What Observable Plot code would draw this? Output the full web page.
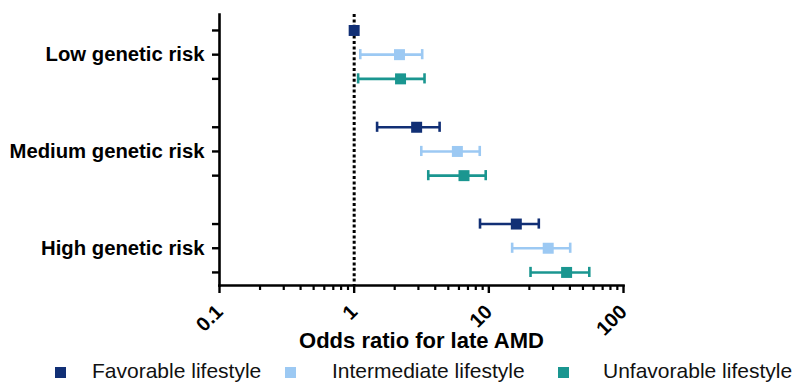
<!DOCTYPE html>
<html>
<head>
<meta charset="utf-8">
<script src="https://cdn.jsdelivr.net/npm/d3@7"></script>
<script src="https://cdn.jsdelivr.net/npm/@observablehq/plot@0.6"></script>
<style>
  html, body { margin: 0; padding: 0; background: #fff; }
  body { width: 795px; height: 383px; overflow: hidden; font-family: "Liberation Sans", Arial, sans-serif; }
  #chart svg { display: block; }
  #legend { position: relative; height: 23px; font-size: 21px; color: #111; }
  .sw { position: absolute; top: 7px; width: 11px; height: 11px; }
  .tx { position: absolute; top: -1px; white-space: nowrap; line-height: 24px; }
</style>
</head>
<body>
<div id="chart"></div>
<div id="legend"></div>
<script>
const groups = ["Low genetic risk", "Medium genetic risk", "High genetic risk"];
const lifestyles = ["Favorable lifestyle", "Intermediate lifestyle", "Unfavorable lifestyle"];
const colors = ["#112f75", "#9cc9f3", "#1a9690"];

const favorableOR = [1.0, 2.91, 16.0];
const favorableLo = [null, 1.48, 8.6];
const favorableHi = [null, 4.31, 23.5];

const intermediateOR = [2.17, 5.84, 27.6];
const intermediateLo = [1.11, 3.15, 14.9];
const intermediateHi = [3.2, 8.56, 40.2];

const unfavorableOR = [2.21, 6.54, 37.8];
const unfavorableLo = [1.07, 3.55, 20.4];
const unfavorableHi = [3.33, 9.48, 55.7];

const xTicks = [0.1, 1, 10, 100];
const xLabel = "Odds ratio for late AMD";

const series = [
  [favorableOR, favorableLo, favorableHi],
  [intermediateOR, intermediateLo, intermediateHi],
  [unfavorableOR, unfavorableLo, unfavorableHi]
];

const data = [];
groups.forEach((g, gi) => {
  lifestyles.forEach((l, si) => {
    const [or, lo, hi] = series[si];
    data.push({group: g, lifestyle: l, or: or[gi], lo: lo[gi], hi: hi[gi], row: gi * 4 + si});
  });
});
const ci = data.filter(d => d.lo != null);
const rows = data.map(d => d.row);
const labelOf = new Map(groups.map((g, gi) => [gi * 4 + 1, g]));
const minorTicks = [];
for (let e = -1; e < 2; e++) for (let k = 2; k <= 9; k++) minorTicks.push(k * Math.pow(10, e));

const font = '"Liberation Sans", Arial, sans-serif';

const chart = Plot.plot({
  width: 795,
  height: 360,
  marginLeft: 219,
  marginRight: 172,
  marginTop: 14,
  marginBottom: 75,
  style: {fontFamily: font, background: "#fff", color: "#000"},
  x: {type: "log", domain: [0.1, 100]},
  y: {domain: [-0.66, 10.54], reverse: true},
  color: {domain: lifestyles, range: colors},
  marks: [
    Plot.ruleX([1], {stroke: "#000", strokeWidth: 3, strokeDasharray: "3,2.4"}),
    Plot.axisY({ticks: rows, tickFormat: d => labelOf.get(d) || "", tickSize: 7, tickPadding: 8,
      fontSize: 20.3, fontWeight: "bold", strokeWidth: 2.4, label: null}),
    Plot.axisX({ticks: minorTicks, tickSize: 5, tickFormat: () => "", strokeWidth: 2.2, label: null}),
    Plot.axisX({ticks: xTicks, tickSize: 8, tickFormat: d => String(d), tickRotate: -45, tickPadding: 15,
      fontSize: 20, fontWeight: "bold", strokeWidth: 2.4,
      label: xLabel, labelAnchor: "center", labelArrow: "none", labelOffset: 62}),
    Plot.frame({anchor: "left", stroke: "#000", strokeWidth: 2.6}),
    Plot.frame({anchor: "bottom", stroke: "#000", strokeWidth: 2.6}),
    Plot.link(ci, {x1: "lo", x2: "hi", y1: "row", y2: "row", stroke: "lifestyle", strokeWidth: 2.6}),
    Plot.ruleX(ci, {x: "lo", y1: d => d.row - 0.21, y2: d => d.row + 0.21, stroke: "lifestyle", strokeWidth: 2.6}),
    Plot.ruleX(ci, {x: "hi", y1: d => d.row - 0.21, y2: d => d.row + 0.21, stroke: "lifestyle", strokeWidth: 2.6}),
    Plot.dot(data, {x: "or", y: "row", fill: "lifestyle", symbol: "square", r: 6.2})
  ]
});
document.getElementById("chart").appendChild(chart);

chart.querySelectorAll("[aria-label='x-axis label'] text").forEach(t => {
  t.setAttribute("font-size", "22");
  t.setAttribute("font-weight", "bold");
});

const legend = document.getElementById("legend");
const swLeft = [55, 285, 558];
const txLeft = [92, 332, 603];
lifestyles.forEach((l, i) => {
  const sw = document.createElement("span");
  sw.className = "sw";
  sw.style.left = swLeft[i] + "px";
  sw.style.background = colors[i];
  const tx = document.createElement("span");
  tx.className = "tx";
  tx.style.left = txLeft[i] + "px";
  tx.textContent = l;
  legend.appendChild(sw);
  legend.appendChild(tx);
});
</script>
</body>
</html>
